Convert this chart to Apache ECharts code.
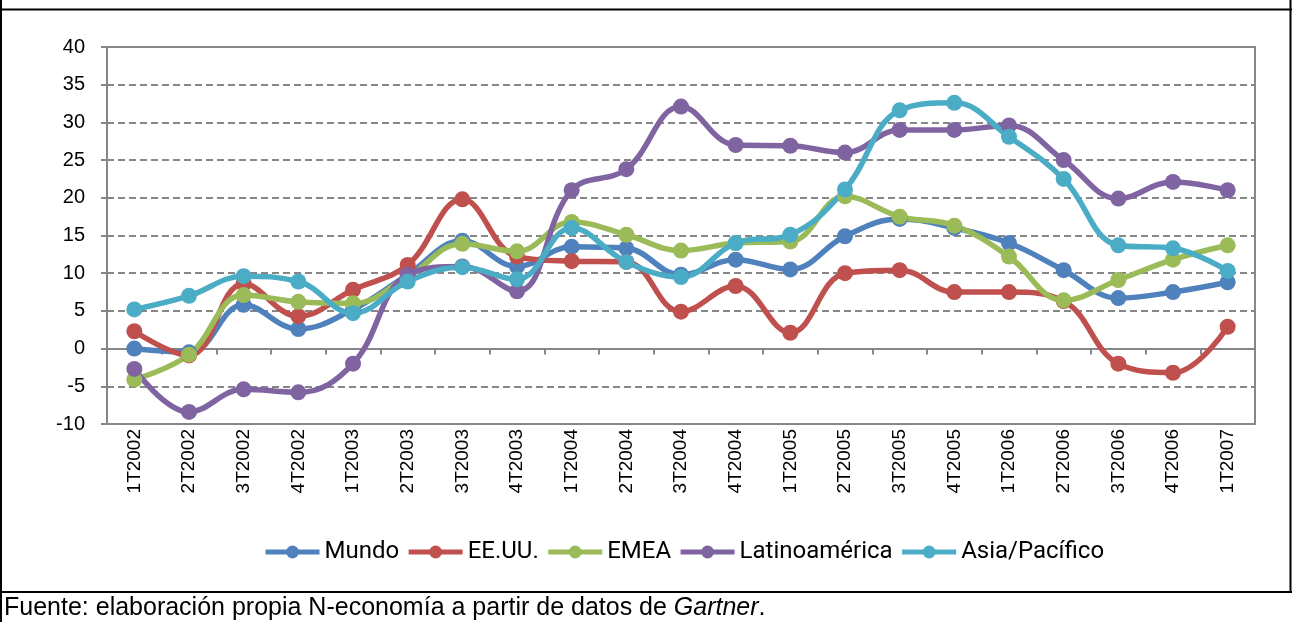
<!DOCTYPE html>
<html>
<head>
<meta charset="utf-8">
<script src="https://cdn.jsdelivr.net/npm/echarts@6/dist/echarts.min.js"></script>
<style>
  html, body { margin: 0; padding: 0; background: #fff; }
  #chart { width: 1292px; height: 622px; }
</style>
</head>
<body>
<div id="chart"></div>
<script>
  // trimestres
  var categories = ['1T2002', '2T2002', '3T2002', '4T2002', '1T2003', '2T2003', '3T2003', '4T2003',
    '1T2004', '2T2004', '3T2004', '4T2004', '1T2005', '2T2005', '3T2005', '4T2005',
    '1T2006', '2T2006', '3T2006', '4T2006', '1T2007'];

  var mundo = [0, -0.5, 5.8, 2.6, 5.2, 9.8, 14.3, 10.9, 13.5, 13.3, 9.8, 11.8, 10.5, 14.9, 17.2, 16.0, 14.0, 10.4, 6.7, 7.5, 8.8];
  var eeuu = [2.3, -0.9, 8.6, 4.3, 7.8, 11.1, 19.8, 12.2, 11.6, 11.5, 4.9, 8.3, 2.1, 10.0, 10.4, 7.5, 7.5, 6.3, -2.0, -3.2, 2.9];
  var emea = [-4.1, -0.8, 7.1, 6.2, 6.0, 9.5, 13.9, 12.9, 16.8, 15.1, 13.0, 14.0, 14.2, 20.2, 17.5, 16.3, 12.2, 6.4, 9.1, 11.8, 13.7];
  var latam = [-2.7, -8.4, -5.4, -5.8, -2.0, 9.8, 10.9, 7.6, 21.0, 23.8, 32.1, 27.0, 26.9, 26.0, 29.0, 29.0, 29.6, 25.0, 19.9, 22.1, 21.0];
  var asia = [5.2, 7.0, 9.6, 8.9, 4.7, 8.9, 10.8, 9.2, 16.0, 11.5, 9.5, 14.0, 15.1, 21.1, 31.6, 32.6, 28.1, 22.5, 13.7, 13.3, 10.3];

  var seriesNames = ['Mundo', 'EE.UU.', 'EMEA', 'Latinoamérica', 'Asia/Pacífico'];
  var seriesData = [mundo, eeuu, emea, latam, asia];
  var colors = ['#4F81BD', '#C0504D', '#9BBB59', '#8064A2', '#4BACC6'];

  var axisGray = '#868686';

  var myChart = echarts.init(document.getElementById('chart'), null, {renderer: 'canvas'});

  var series = seriesNames.map(function (name, i) {
    return {
      name: name,
      type: 'line',
      xAxisIndex: 0,
      data: seriesData[i],
      smooth: 0.4,
      symbol: 'circle',
      symbolSize: 16,
      lineStyle: {width: 5.5, color: colors[i]},
      itemStyle: {color: colors[i]}
    };
  });

  myChart.setOption({
    animation: false,
    color: colors,
    grid: {
      left: 107,
      right: 37,
      top: 47,
      bottom: 198,
      show: true,
      borderColor: axisGray,
      borderWidth: 2
    },
    legend: {
      data: seriesNames,
      left: 258,
      top: 535,
      itemWidth: 54,
      itemHeight: 16,
      itemGap: 7,
      lineStyle: {width: 5},
      textStyle: {fontFamily: 'Roboto', fontSize: 24, color: '#000'}
    },
    xAxis: [
      {
        type: 'category',
        data: categories,
        axisLine: {onZero: true, lineStyle: {color: axisGray, width: 2}},
        axisTick: {show: true, interval: 0, length: 6, lineStyle: {color: axisGray, width: 2}},
        axisLabel: {show: false},
        splitLine: {show: false}
      },
      {
        type: 'category',
        data: categories,
        position: 'bottom',
        axisLine: {show: false, onZero: false},
        axisTick: {show: false},
        axisLabel: {
          interval: 0,
          rotate: 90,
          margin: 5,
          fontFamily: 'Liberation Sans, Arial',
          fontSize: 19,
          color: '#000'
        },
        splitLine: {show: false}
      }
    ],
    yAxis: {
      type: 'value',
      min: -10,
      max: 40,
      interval: 5,
      axisLine: {show: true, lineStyle: {color: axisGray, width: 2}},
      axisTick: {show: true, length: 6, lineStyle: {color: axisGray, width: 2}},
      axisLabel: {
        margin: 22,
        fontFamily: 'Liberation Sans, Arial',
        fontSize: 20,
        color: '#000'
      },
      splitLine: {show: true, lineStyle: {color: axisGray, width: 2, type: [7, 4]}}
    },
    graphic: [
      {type: 'line', shape: {x1: 0, y1: 9.5, x2: 1292, y2: 9.5}, style: {stroke: '#000', lineWidth: 2}},
      {type: 'line', shape: {x1: 1, y1: 0, x2: 1, y2: 622}, style: {stroke: '#000', lineWidth: 2}},
      {type: 'line', shape: {x1: 1290.5, y1: 0, x2: 1290.5, y2: 592}, style: {stroke: '#000', lineWidth: 2}},
      {type: 'line', shape: {x1: 0, y1: 592, x2: 1292, y2: 592}, style: {stroke: '#000', lineWidth: 2}},
      {
        type: 'text',
        left: 4,
        top: 596,
        style: {
          text: '{n|Fuente: elaboración propia N-economía a partir de datos de }{i|Gartner}{n|.}',
          rich: {
            n: {fontFamily: 'Liberation Sans, Arial', fontSize: 25, fill: '#000'},
            i: {fontFamily: 'Liberation Sans, Arial', fontSize: 25, fontStyle: 'italic', fill: '#000'}
          }
        }
      }
    ],
    series: series
  });

  window.onresize = function () {
    myChart.resize();
  };
</script>
</body>
</html>
